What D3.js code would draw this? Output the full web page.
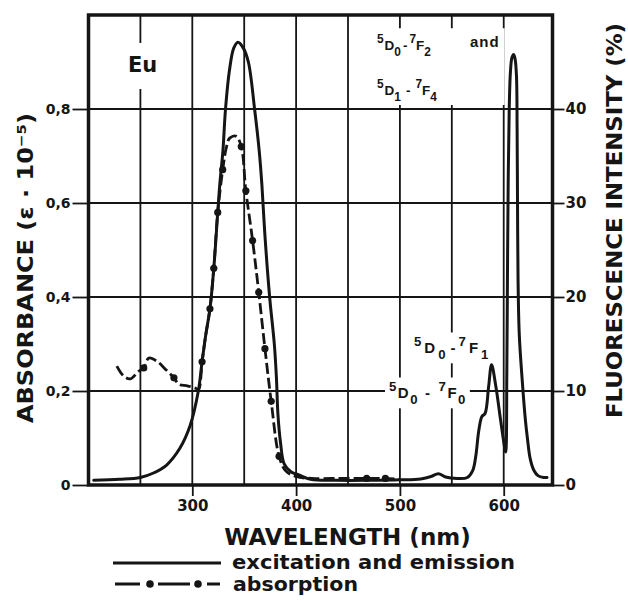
<!DOCTYPE html>
<html>
<head>
<meta charset="utf-8">
<script src="https://cdn.jsdelivr.net/npm/d3@7"></script>
<style>
  html, body { margin: 0; padding: 0; background: #fff; }
  svg { display: block; }
  text { font-family: "DejaVu Sans", sans-serif; font-weight: bold; fill: #151515; }
  text.level { font-family: "Liberation Sans", Arial, sans-serif; }
</style>
</head>
<body>
<svg id="chart" width="628" height="601"></svg>
<script>
// Excitation and emission spectrum, fluorescence intensity in % (right axis)
const emissionWavelength = [
  205, 230, 250, 262, 275, 288, 298, 305.8, 309.4, 313, 317, 320.7, 324.5, 326.5, 329.4,
  332, 335.9, 340, 344, 349, 354, 360, 364.5, 367, 370, 374.5, 379, 381, 382.5, 385,
  388.5, 395, 402, 414, 440, 470, 500, 520, 530, 537, 544, 555, 565, 570, 573, 576,
  579, 582, 585.5, 588.3, 592.4, 597, 600, 601.8, 603, 603.6, 604.3, 605.3, 606.5, 608,
  609.6, 611, 612.3, 612.9, 613.3, 613.8, 615, 618, 620.9, 622.8, 625.5, 628.9, 633,
  638.5, 641.7
];
const emissionIntensity = [
  0.5, 0.6, 0.8, 1.25, 2.1, 3.9, 6.35, 10.0, 13.1, 16.0, 18.75, 23.05, 29.0, 32.0, 35.4,
  40.0, 44.2, 46.5, 47.1, 46.5, 45.0, 40.0, 35.5, 32.0, 26.5, 20.0, 15.0, 11.5, 7.5, 4.5,
  2.25, 1.4, 1.1, 0.6, 0.5, 0.5, 0.55, 0.65, 0.9, 1.2, 0.85, 0.7, 0.8, 1.5, 3.0, 5.8,
  7.3, 7.6, 10.5, 12.8, 10.5, 6.9, 4.6, 3.5, 12, 22, 32, 40, 44, 45.5,
  45.8, 45.3, 43.5, 38, 30, 22, 16, 10.9, 6.9, 5.0, 2.8, 1.6, 1.0,
  0.8, 0.8
];

// Absorption spectrum, ε·10⁻⁵ (left axis)
const absorptionWavelength = [
  227.3, 233.8, 240.3, 248.3, 253.2, 258.1, 266.1, 274.3, 282.3, 287.2, 295.3, 303, 306,
  309.4, 313, 317, 320.7, 324.5, 329.3, 333, 336, 342.3, 347.2, 351.6, 358.1, 364, 370,
  376, 383.6, 390, 400, 415, 440, 468, 486, 500
];
const absorptionValue = [
  0.253, 0.232, 0.226, 0.242, 0.249, 0.270, 0.263, 0.246, 0.228, 0.214, 0.211, 0.206, 0.203,
  0.262, 0.32, 0.375, 0.461, 0.58, 0.671, 0.72, 0.738, 0.742, 0.72, 0.626, 0.52, 0.41, 0.29,
  0.178, 0.061, 0.03, 0.018, 0.014, 0.014, 0.014, 0.014, 0.012
];
// Measured points marked with a dot on the absorption curve
const absorptionDotWavelength = [
  253.2, 282.3, 309.4, 317, 320.7, 324.5, 329.3, 347.2, 351.6, 358.1, 364, 370, 376, 383.6, 468, 486
];

// Axis ticks and grid
const absorbanceTicks = [0, 0.2, 0.4, 0.6, 0.8];
const intensityTicks = [0, 10, 20, 30, 40];
const wavelengthTicks = [300, 400, 500, 600];
const gridWavelengths = [250, 300, 350, 400, 450, 500, 550, 600];
const gridAbsorbance = [0.2, 0.4, 0.6, 0.8];

const ink = "#151515";
const plot = { left: 88.5, right: 552.5, top: 15, bottom: 485 };

const x = d3.scaleLinear().domain([200, 647]).range([plot.left, plot.right]);
const yAbs = d3.scaleLinear().domain([0, 1]).range([plot.bottom, plot.top]);
const yFl = d3.scaleLinear().domain([0, 50]).range([plot.bottom, plot.top]);

const svg = d3.select("#chart");

// grid lines
const grid = svg.append("g").attr("stroke", ink).attr("stroke-width", 1.8);
grid.selectAll("line.gv").data(gridWavelengths).join("line").attr("class", "gv")
  .attr("x1", d => x(d)).attr("x2", d => x(d))
  .attr("y1", plot.top).attr("y2", plot.bottom);
grid.selectAll("line.gh").data(gridAbsorbance).join("line").attr("class", "gh")
  .attr("x1", plot.left).attr("x2", plot.right)
  .attr("y1", d => yAbs(d)).attr("y2", d => yAbs(d));

// white backing behind the in-plot labels, then the labels
const masks = svg.append("g");
const labels = svg.append("g");

// term symbol such as ⁵D₀-⁷F₂: [text, "sup" | "sub" | "base", extra gap before]
function levelLabel(x0, y0, parts, size, spacing) {
  const t = labels.append("text").attr("class", "level")
    .attr("x", x0).attr("y", y0).attr("font-size", size)
    .attr("letter-spacing", spacing || 0);
  let shift = 0;
  parts.forEach(([s, kind, gap]) => {
    const target = kind === "sup" ? -0.5 * size : kind === "sub" ? 0.42 * size : 0;
    t.append("tspan")
      .attr("dx", gap || 0)
      .attr("dy", (target - shift).toFixed(2))
      .attr("font-size", kind === "base" ? size : size * 0.88)
      .text(s);
    shift = target;
  });
  return t;
}

const eu = labels.append("text").attr("x", 128).attr("y", 72).attr("font-size", 21).text("Eu");

const top1 = levelLabel(377, 50, [["5", "sup"], ["D", "base", 1], ["0", "sub"], ["-", "base", 2], ["7", "sup", 2], ["F", "base"], ["2", "sub"]], 13.5, 0);
const top1b = labels.append("text").attr("class", "level").attr("x", 470).attr("y", 47)
  .attr("font-size", 15).attr("letter-spacing", 1).text("and");
const top2 = levelLabel(377, 95, [["5", "sup"], ["D", "base", 1], ["1", "sub"], ["-", "base", 5], ["7", "sup", 5], ["F", "base"], ["4", "sub"]], 13.5, 0);
const lab71 = levelLabel(414, 353, [["5", "sup"], ["D", "base"], ["0", "sub"], ["-", "base", 2], ["7", "sup"], ["F", "base"], ["1", "sub"]], 15, 3);
const lab70 = levelLabel(389, 398, [["5", "sup"], ["D", "base"], ["0", "sub"], ["-", "base", 6], ["7", "sup", 7], ["F", "base"], ["0", "sub"]], 15, 1.5);

function maskFor(nodes, pad, clampBottom) {
  const boxes = nodes.map(n => n.node().getBBox());
  const x0 = d3.min(boxes, b => b.x) - pad[0];
  const x1 = d3.max(boxes, b => b.x + b.width) + pad[1];
  const y0 = d3.min(boxes, b => b.y) - pad[2];
  let y1 = d3.max(boxes, b => b.y + b.height) + pad[3];
  if (clampBottom !== undefined) y1 = Math.min(y1, clampBottom);
  masks.append("rect").attr("x", x0).attr("y", y0)
    .attr("width", x1 - x0).attr("height", y1 - y0).attr("fill", "#fff");
}
maskFor([eu], [4, 4, 10, 12]);
maskFor([top1, top1b, top2], [4, 5, 4, 4], 105);
maskFor([lab71], [3, 3, 1, 1]);
maskFor([lab70], [4, 3, 1, 1]);

// excitation and emission curve
const smooth = d3.curveCatmullRom.alpha(0.5);
const lineFl = d3.line().x(d => x(d[0])).y(d => yFl(d[1])).curve(smooth);
svg.append("path")
  .datum(d3.zip(emissionWavelength, emissionIntensity))
  .attr("d", lineFl)
  .attr("fill", "none").attr("stroke", ink).attr("stroke-width", 3)
  .attr("stroke-linejoin", "round").attr("stroke-linecap", "round");

// absorption curve, dash-dot with point markers
const absPoints = d3.zip(absorptionWavelength, absorptionValue);
const lineAbs = d3.line().x(d => x(d[0])).y(d => yAbs(d[1])).curve(smooth);
svg.append("path")
  .datum(absPoints)
  .attr("d", lineAbs)
  .attr("fill", "none").attr("stroke", ink).attr("stroke-width", 2.8)
  .attr("stroke-dasharray", "11,4");
svg.append("g").selectAll("circle")
  .data(absPoints.filter(p => absorptionDotWavelength.includes(p[0])))
  .join("circle")
  .attr("cx", d => x(d[0])).attr("cy", d => yAbs(d[1])).attr("r", 3.6)
  .attr("fill", ink);

// frame
svg.append("rect")
  .attr("x", plot.left).attr("y", plot.top)
  .attr("width", plot.right - plot.left).attr("height", plot.bottom - plot.top)
  .attr("fill", "none").attr("stroke", ink).attr("stroke-width", 3.5);

// axes
function styleAxis(g, size) {
  g.select(".domain").remove();
  g.attr("font-size", size).attr("font-family", null);
  g.selectAll(".tick line").attr("stroke", ink).attr("stroke-width", 1.8);
}
const commaFmt = d => d === 0 ? "0" : d3.format(".1f")(d).replace(".", ",");
svg.append("g").attr("transform", `translate(${plot.left},0)`)
  .call(d3.axisLeft(yAbs).tickValues(absorbanceTicks).tickSize(16).tickPadding(2).tickFormat(commaFmt))
  .call(g => styleAxis(g, 14));
svg.append("g").attr("transform", `translate(${plot.right},0)`)
  .call(d3.axisRight(yFl).tickValues(intensityTicks).tickSize(12).tickPadding(1).tickFormat(d3.format("d")))
  .call(g => styleAxis(g, 15));
svg.append("g").attr("transform", `translate(0,${plot.bottom})`)
  .call(d3.axisBottom(x).tickValues(wavelengthTicks).tickSize(11).tickPadding(4).tickFormat(d3.format("d")))
  .call(g => styleAxis(g, 15));

// axis titles
svg.append("text").attr("x", 347.5).attr("y", 545).attr("text-anchor", "middle")
  .attr("font-size", 23).text("WAVELENGTH (nm)");
svg.append("text").attr("transform", "translate(33,268) rotate(-90)")
  .attr("text-anchor", "middle").attr("font-size", 22)
  .attr("textLength", 310).attr("lengthAdjust", "spacingAndGlyphs")
  .text("ABSORBANCE (ε · 10⁻⁵)");
svg.append("text").attr("transform", "translate(622,220.5) rotate(-90)")
  .attr("text-anchor", "middle").attr("font-size", 22)
  .attr("textLength", 395).attr("lengthAdjust", "spacingAndGlyphs")
  .text("FLUORESCENCE INTENSITY (%)");

// legend
const legend = svg.append("g");
legend.append("line").attr("x1", 113).attr("x2", 221).attr("y1", 563).attr("y2", 563)
  .attr("stroke", ink).attr("stroke-width", 3);
legend.append("text").attr("x", 232).attr("y", 569).attr("font-size", 19)
  .attr("textLength", 283).attr("lengthAdjust", "spacingAndGlyphs")
  .text("excitation and emission");
legend.append("line").attr("x1", 115).attr("x2", 220).attr("y1", 584).attr("y2", 584)
  .attr("stroke", ink).attr("stroke-width", 3)
  .attr("stroke-dasharray", "25,18,32,17,13,40");
legend.selectAll("circle").data([150, 198]).join("circle")
  .attr("cx", d => d).attr("cy", 584).attr("r", 3.8).attr("fill", ink);
legend.append("text").attr("x", 233).attr("y", 591).attr("font-size", 19)
  .attr("textLength", 125).attr("lengthAdjust", "spacingAndGlyphs")
  .text("absorption");
</script>
</body>
</html>
